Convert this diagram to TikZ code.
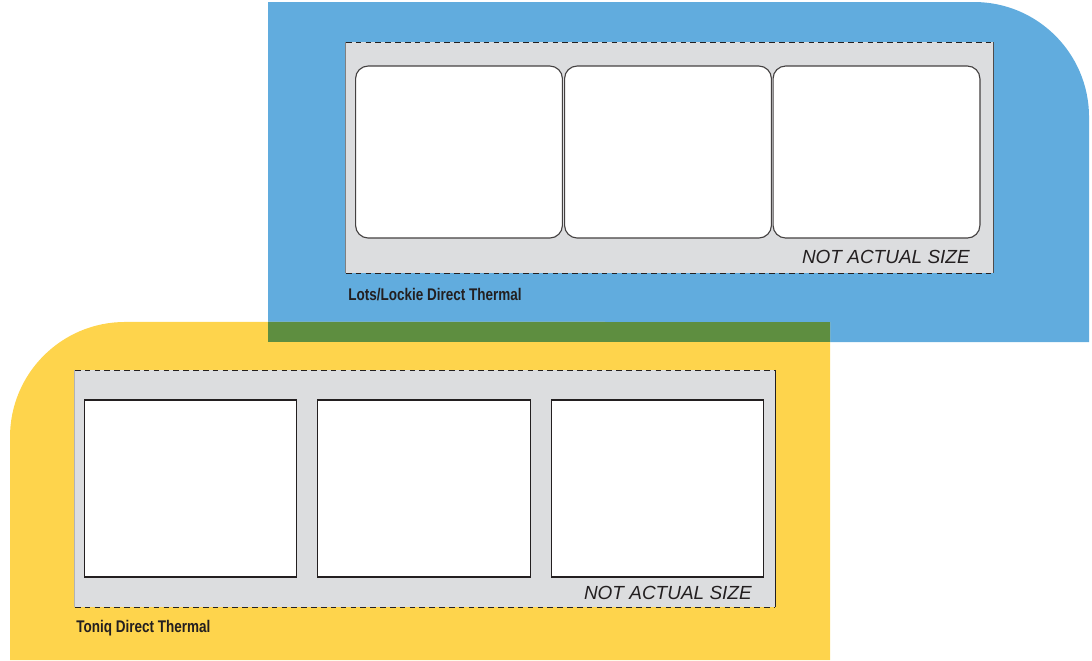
\documentclass[tikz,border=0pt]{standalone}
\usepackage{fontspec}
\setmainfont{Liberation Sans}
\newfontfamily\condfont[FakeStretch=0.8]{Liberation Sans}
\usetikzlibrary{positioning}
\definecolor{bluebg}{HTML}{61ACDE}
\definecolor{yellowbg}{HTML}{FED44C}
\definecolor{greenbg}{HTML}{5E8E40}
\definecolor{stripgray}{HTML}{DCDDDF}
\definecolor{inkdark}{HTML}{231F20}

\begin{document}
\begin{tikzpicture}[x=0.025cm,y=-0.025cm,
  strip/.style={fill=stripgray,inner sep=0pt,outer sep=0pt},
  lbl/.style={draw=inkdark!85,fill=white,line width=0.8pt,inner sep=0pt,outer sep=0pt,minimum height=4.3cm,minimum width=5.17cm,rounded corners=9pt},
  sq/.style={draw=inkdark,fill=white,line width=0.8pt,inner sep=0pt,outer sep=0pt,minimum height=4.425cm,minimum width=5.32cm},
  note/.style={font=\itshape\fontsize{13.5}{14}\selectfont,text=inkdark,inner sep=0pt},
  title/.style={font=\condfont\bfseries\fontsize{12}{13}\selectfont,text=inkdark,inner sep=0pt},
  edge/.style={draw=inkdark,line width=0.6pt,dash pattern=on 4pt off 3pt}]
\useasboundingbox (0,0) rectangle (1092,660);
% backgrounds
\fill[bluebg] (268,342) -- (268,2) -- (974,2) arc[start angle=90,end angle=0,radius=2.875cm] -- (1089,342) -- cycle;
\fill[yellowbg] (10,660) -- (10,437) arc[start angle=180,end angle=90,radius=2.875cm] -- (830,322) -- (830,660) -- cycle;
\fill[greenbg] (268,322) rectangle (830,342);
% upper strip
\node[strip,minimum width=16.175cm,minimum height=5.775cm] (s1) at (669.5,157.5) {};
\draw[edge] (s1.north west) -- (s1.north east);
\draw[edge] (s1.south west) -- (s1.south east);
\draw[gray,line width=0.6pt] (s1.north west) -- (s1.south west);
\draw[inkdark!80,line width=0.8pt] (s1.north east) -- (s1.south east);
\node[lbl] (a1) at (459,152) {};
\node[lbl] (a2) at (668,152) {};
\node[lbl] (a3) at (876.5,152) {};
\node[note,anchor=east] (n1) at (970,257) {NOT ACTUAL SIZE};
\node[title,anchor=west] (t1) at (348,295) {Lots/Lockie Direct Thermal};
% lower strip
\node[strip,minimum width=17.5cm,minimum height=5.925cm] (s2) at (425,488.5) {};
\draw[edge] (s2.north west) -- (s2.north east);
\draw[edge] (s2.south west) -- (s2.south east);
\draw[gray!60,line width=0.6pt] (s2.north west) -- (s2.south west);
\draw[inkdark,line width=0.8pt] (s2.north east) -- (s2.south east);
\node[sq] (b1) at (190.5,488.5) {};
\node[sq] (b2) at (424,488.5) {};
\node[sq] (b3) at (657.5,488.5) {};
\node[note,anchor=east] (n2) at (752,593) {NOT ACTUAL SIZE};
\node[title,anchor=west] (t2) at (76,628) {Toniq Direct Thermal};
\end{tikzpicture}
\end{document}
